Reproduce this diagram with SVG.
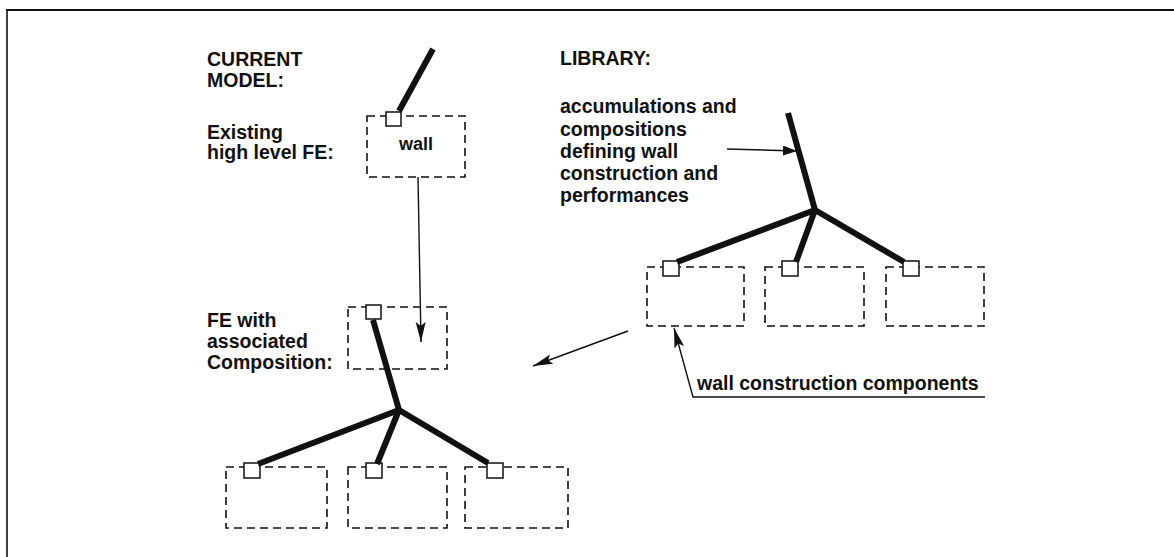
<svg xmlns="http://www.w3.org/2000/svg" width="1174" height="557" viewBox="0 0 1174 557">
<style>
.t{font-family:"Liberation Sans",Arial,Helvetica,sans-serif;font-weight:bold;font-size:19.5px;fill:#111}
.box{fill:none;stroke:#111;stroke-width:1.6;stroke-dasharray:8 5}
.sq{fill:#fff;stroke:#111;stroke-width:1.5}
.thick{fill:none;stroke:#111;stroke-width:6;stroke-linecap:butt}
.thin{fill:none;stroke:#111;stroke-width:1.4}
.frame{fill:none;stroke:#111}
</style>
<defs>
<marker id="ah" markerUnits="userSpaceOnUse" markerWidth="22" markerHeight="12" refX="20" refY="5" orient="auto"><path d="M0,0 L20,5 L0,10 L4,5 z" fill="#111"/></marker>
<marker id="ahs" markerUnits="userSpaceOnUse" markerWidth="16" markerHeight="12" refX="14" refY="5" orient="auto"><path d="M0,0 L14,5 L0,10 z" fill="#111"/></marker>
</defs>
<rect width="1174" height="557" fill="#fff"/>
<g id="frame">
<line class="frame" x1="6" y1="10" x2="1174" y2="10" stroke-width="2.2"/>
<line class="frame" x1="7" y1="9" x2="7" y2="557" stroke-width="1.6"/>
</g>
<g id="labels">
<text class="t" x="207" y="66">CURRENT</text>
<text class="t" x="207" y="87">MODEL:</text>
<text class="t" x="207" y="139">Existing</text>
<text class="t" x="207" y="159">high level FE:</text>
<text class="t" x="207" y="327">FE with</text>
<text class="t" x="207" y="348">associated</text>
<text class="t" x="207" y="369">Composition:</text>
<text class="t" x="560" y="65">LIBRARY:</text>
<text class="t" x="560" y="113">accumulations and</text>
<text class="t" x="560" y="135.5">compositions</text>
<text class="t" x="560" y="158">defining wall</text>
<text class="t" x="560" y="180">construction and</text>
<text class="t" x="560" y="202">performances</text>
<text class="t" x="697" y="390">wall construction components</text>
</g>
<g id="wall">
<rect class="box" x="367" y="116" width="98" height="61"/>
<text class="t" x="416" y="150" text-anchor="middle" style="font-size:18px">wall</text>
<rect class="sq" x="386" y="112" width="15" height="14"/>
</g>
<g id="composition">
<rect class="box" x="348" y="307" width="99" height="62"/>
<rect class="sq" x="366" y="305" width="15" height="14"/>
</g>
<g id="comp-child-1"><rect class="box" x="226" y="467" width="101" height="61"/><rect class="sq" x="244" y="463" width="16" height="15"/></g>
<g id="comp-child-2"><rect class="box" x="348" y="467" width="99" height="61"/><rect class="sq" x="366" y="463" width="16" height="15"/></g>
<g id="comp-child-3"><rect class="box" x="465" y="467" width="103" height="61"/><rect class="sq" x="487" y="463" width="16" height="15"/></g>
<g id="lib-child-1"><rect class="box" x="647" y="267" width="97" height="59"/><rect class="sq" x="663" y="261" width="16" height="15"/></g>
<g id="lib-child-2"><rect class="box" x="765" y="267" width="99" height="59"/><rect class="sq" x="782" y="261" width="16" height="15"/></g>
<g id="lib-child-3"><rect class="box" x="886" y="267" width="98" height="59"/><rect class="sq" x="903" y="261" width="16" height="15"/></g>
<g id="connectors">
<line class="thick" x1="399" y1="111" x2="433" y2="49"/>
<line class="thick" x1="373" y1="320" x2="399" y2="410"/>
<line class="thick" x1="399" y1="410" x2="258" y2="464"/>
<line class="thick" x1="399" y1="410" x2="377" y2="464"/>
<line class="thick" x1="399" y1="410" x2="488" y2="463"/>
<line class="thick" x1="788" y1="113" x2="815" y2="210"/>
<line class="thick" x1="815" y1="210" x2="677" y2="262"/>
<line class="thick" x1="815" y1="210" x2="796" y2="262"/>
<line class="thick" x1="815" y1="210" x2="904" y2="262"/>
<line class="thin" x1="418" y1="177" x2="421" y2="342" marker-end="url(#ah)"/>
<line class="thin" x1="727" y1="149" x2="797" y2="151" marker-end="url(#ahs)"/>
<line class="thin" x1="628" y1="331" x2="533" y2="366" marker-end="url(#ah)"/>
<polyline class="thin" points="985,397 693,397 674,328" marker-end="url(#ah)"/>
</g>
</svg>
